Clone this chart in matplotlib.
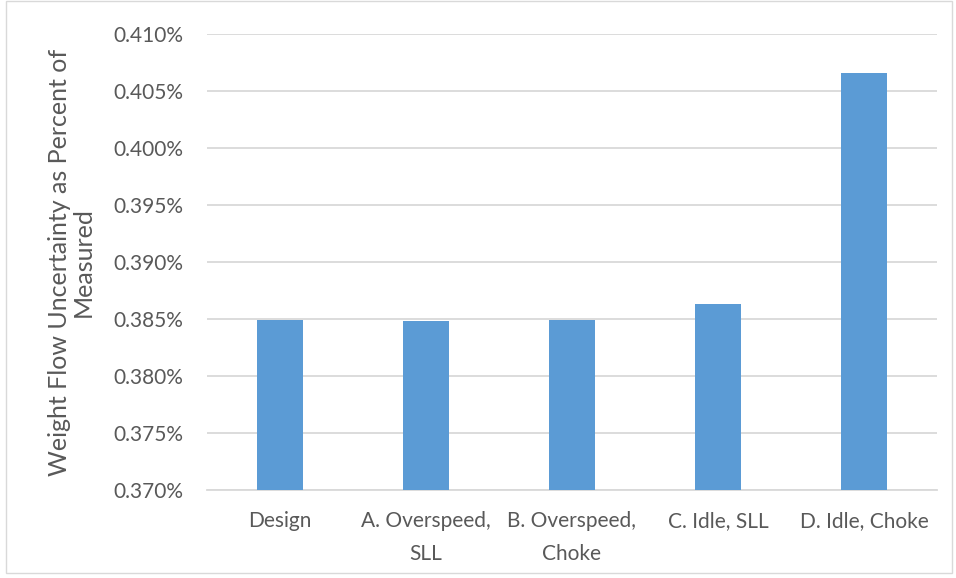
import matplotlib
matplotlib.use("Agg")
import matplotlib.pyplot as plt
from matplotlib.patches import Rectangle

# values (percent)
categories = ["Design", "A. Overspeed,\nSLL", "B. Overspeed,\nChoke", "C. Idle, SLL", "D. Idle, Choke"]
uncertainty = [0.38488, 0.38485, 0.38490, 0.38628, 0.40658]
y_ticks = [0.370, 0.375, 0.380, 0.385, 0.390, 0.395, 0.400, 0.405, 0.410]

plt.rcParams['font.family'] = ['Lato', 'DejaVu Sans']
text_color = "#595959"
grid_color = "#D9D9D9"

fig = plt.figure(figsize=(9.56, 5.78), dpi=100)
ax = fig.add_axes([0.2165, 0.1522, 0.7635, 0.789])

ax.bar(range(len(categories)), uncertainty, width=0.31, color="#5B9BD5", zorder=3)

ax.set_ylim(0.370, 0.410)
ax.set_xlim(-0.5, len(categories) - 0.5)
ax.set_yticks(y_ticks)
ax.set_yticklabels([f"{t:.3f}%" for t in y_ticks])
ax.set_xticks(range(len(categories)))
ax.set_xticklabels(categories, linespacing=1.8)

ax.yaxis.grid(True, color=grid_color, linewidth=1.3, zorder=0)
for s in ["top", "right", "left"]:
    ax.spines[s].set_visible(False)
ax.spines["bottom"].set_color(grid_color)
ax.spines["bottom"].set_linewidth(1.3)
ax.tick_params(axis="both", length=0, labelsize=15, colors=text_color)
ax.tick_params(axis="x", pad=15)
ax.tick_params(axis="y", pad=17)

fig.text(71 / 956, 1 - 262 / 578, "Weight Flow Uncertainty as Percent of\nMeasured",
         rotation=90, ha="center", va="center", fontsize=18, color=text_color,
         linespacing=1.05)

# light chart border like the Excel chart area
fig.patches.append(Rectangle((0.006, 0.008), 0.99, 0.99, transform=fig.transFigure,
                             fill=False, edgecolor=grid_color, linewidth=1))

fig.savefig("out.png", dpi=100)
